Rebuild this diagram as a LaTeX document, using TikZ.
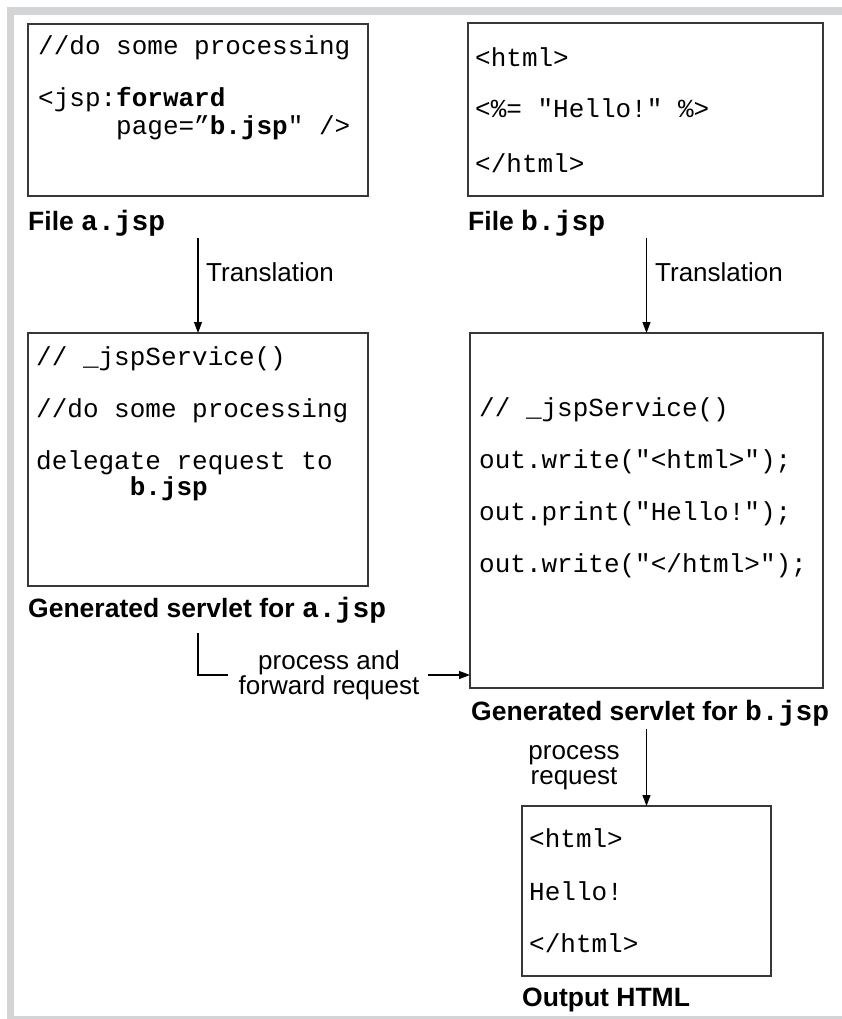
\documentclass[tikz,border=0pt]{standalone}
\usepackage{fontspec}
\setmainfont{Liberation Sans}
\newfontfamily\codefont{Liberation Mono}
\usetikzlibrary{arrows.meta}
\definecolor{framegray}{RGB}{211,212,214}
\definecolor{boxline}{RGB}{55,55,55}
\newcommand\capmono[1]{{\codefont\fontsize{28}{28}\selectfont #1}}
\begin{document}
\begin{tikzpicture}[x=1pt,y=-1pt,
  box/.style={draw=boxline, line width=1.4pt, inner sep=0pt, outer sep=0pt},
  code/.style={font=\codefont\fontsize{26}{30}\selectfont, anchor=west, inner sep=0pt, text height=18pt, text depth=4pt},
  lab/.style={font=\fontsize{26}{25}\selectfont, inner sep=0pt, align=center},
  blab/.style={font=\bfseries\fontsize{26.5}{28}\selectfont, anchor=west, inner sep=0pt, text height=23pt, text depth=4pt},
  arr/.style={line width=1.1pt, -{Triangle[length=11pt,width=8pt]}},
  conn/.style={line width=1.1pt}
]
\useasboundingbox (0,0) rectangle (842,1019);
% grey frame
\fill[framegray] (7,7) rectangle (842,15);
\fill[framegray] (7,7) rectangle (14,1019);
\fill[framegray] (7,1016) rectangle (842,1019);

% boxes
\node[box, minimum width=340pt, minimum height=172pt] (boxA) at (198,110) {};
\node[box, minimum width=355pt, minimum height=173pt] (boxB) at (645.5,109.5) {};
\node[box, minimum width=340pt, minimum height=253pt] (boxC) at (198,459.5) {};
\node[box, minimum width=353pt, minimum height=355pt] (boxD) at (646.5,510.5) {};
\node[box, minimum width=249pt, minimum height=170pt] (boxE) at (646.5,891) {};

% box A code
\node[code] (a1) at (38,48) {//do some processing};
\node[code] (a2) at (38,100) {<jsp:\textbf{forward}};
\node[code] (a3) at (38,128) {\phantom{<jsp:}page=”\textbf{b.jsp}" />};

% box B code
\node[code] (b1) at (475,60) {<html>};
\node[code] (b2) at (475,111) {<\%= "Hello!" \%>};
\node[code] (b3) at (475,165) {</html>};

% box C code
\node[code] (c1) at (36,358) {// \_jspService()};
\node[code] (c2) at (36,410) {//do some processing};
\node[code] (c3) at (36,462) {delegate request to};
\node[code] (c4) at (36,488) {\phantom{delega}\textbf{b.jsp}};

% box D code
\node[code] (d1) at (479,409) {// \_jspService()};
\node[code] (d2) at (479,461) {out.write("<html>");};
\node[code] (d3) at (479,513) {out.print("Hello!");};
\node[code] (d4) at (479,565) {out.write("</html>");};

% box E code
\node[code] (e1) at (529,840) {<html>};
\node[code] (e2) at (529,893) {Hello!};
\node[code] (e3) at (529,945) {</html>};

% captions
\node[blab] (fa) at (28,221) {File \capmono{a.jsp}};
\node[blab] (fb) at (468,221) {File \capmono{b.jsp}};
\node[blab] (ga) at (28,608) {Generated servlet for \capmono{a.jsp}};
\node[blab] (gb) at (471,711) {Generated servlet for \capmono{b.jsp}};
\node[blab] (oh) at (522,997) {Output HTML};

% translation arrows
\node[lab, anchor=west] (t1) at (206,272) {Translation};
\node[lab, anchor=west] (t2) at (655,272) {Translation};
\draw[arr] (boxC.north |- fa.south) ++(0,3) -- (boxC.north);
\draw[arr] (boxD.north |- fb.south) ++(0,3) -- (boxD.north);

% forward connector
\node[lab] (fw) at (329,675) {process and\\forward request};
\coordinate (fstart) at (198,633);
\draw[conn] (fstart) |- ([xshift=-10pt]fw.west);
\draw[arr] ([xshift=8pt]fw.east) -- (boxD.west |- fw.east);

% process request arrow
\node[lab] (pr) at (574,768) {process\\request};
\draw[arr] (boxE.north |- gb.south) ++(0,4) -- (boxE.north);
\end{tikzpicture}
\end{document}
